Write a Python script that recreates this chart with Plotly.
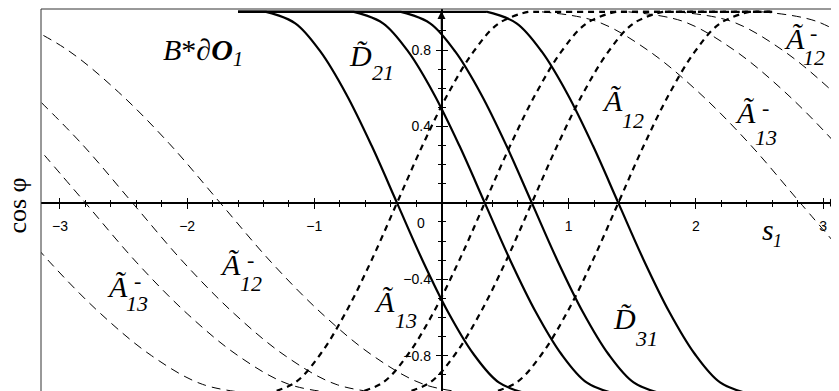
import plotly.graph_objects as go

SERIF = "Liberation Serif"
SANS = "Liberation Sans"

# ---- data ----
# solid branches: flat at cos=1 on the left, then falling through zero
solid_y = [1.00, 1.00, 1.00, 0.94, 0.79, 0.57, 0.30, 0.00, -0.30, -0.57, -0.79, -0.94, -1.00]
solid_s1 = [-1.60, -1.40, -1.38, -1.15, -0.95, -0.75, -0.55, -0.35, -0.15, 0.05, 0.25, 0.45, 0.68]
solid_s2 = [-1.60, -0.71, -0.69, -0.46, -0.26, -0.06, 0.14, 0.34, 0.54, 0.74, 0.94, 1.14, 1.37]
solid_s3 = [-1.60, -0.34, -0.32, -0.09, 0.11, 0.31, 0.51, 0.71, 0.91, 1.11, 1.31, 1.51, 1.74]
solid_s4 = [-1.60, 0.34, 0.36, 0.59, 0.79, 0.99, 1.19, 1.39, 1.59, 1.79, 1.99, 2.19, 2.42]

# heavy dashed branches: rising through zero, then flat at cos=1
rise_y = [-1.00, -0.94, -0.79, -0.57, -0.30, 0.00, 0.30, 0.57, 0.79, 0.94, 1.00, 1.00, 1.00]
rise_s1 = [-1.38, -1.15, -0.95, -0.75, -0.55, -0.35, -0.15, 0.05, 0.25, 0.45, 0.68, 0.70, 2.60]
rise_s2 = [-0.69, -0.46, -0.26, -0.06, 0.14, 0.34, 0.54, 0.74, 0.94, 1.14, 1.37, 1.39, 2.60]
rise_s3 = [-0.32, -0.09, 0.11, 0.31, 0.51, 0.71, 0.91, 1.11, 1.31, 1.51, 1.74, 1.76, 2.60]
rise_s4 = [0.36, 0.59, 0.79, 0.99, 1.19, 1.39, 1.59, 1.79, 1.99, 2.19, 2.42, 2.44, 2.60]

# thin dashed branches, left group (A-_13 / A-_12)
thin_l1_s = [-3.34, -2.94, -2.54, -2.14, -1.74, -1.34, -0.94, -0.54, -0.14, 0.29]
thin_l1_y = [0.95, 0.80, 0.58, 0.31, 0.00, -0.31, -0.58, -0.80, -0.95, -1.00]
thin_l2_s = [-3.23, -2.83, -2.43, -2.03, -1.63, -1.23, -0.83, -0.40]
thin_l2_y = [0.58, 0.31, 0.00, -0.31, -0.58, -0.80, -0.95, -1.00]
thin_l3_s = [-3.20, -2.80, -2.40, -2.00, -1.60, -1.20, -0.77]
thin_l3_y = [0.31, 0.00, -0.31, -0.58, -0.80, -0.95, -1.00]
thin_l4_s = [-3.48, -3.08, -2.68, -2.28, -1.88, -1.45]
thin_l4_y = [0.00, -0.31, -0.58, -0.80, -0.95, -1.00]

# thin dashed branches, right group
thin_r1_s = [0.79, 1.22, 1.62, 2.02, 2.42, 2.82, 3.22]
thin_r1_y = [1.00, 0.95, 0.80, 0.58, 0.31, 0.00, -0.31]
thin_r2_s = [1.47, 1.90, 2.30, 2.70, 3.10, 3.50]
thin_r2_y = [1.00, 0.95, 0.80, 0.58, 0.31, 0.00]
thin_r3_s = [1.85, 2.28, 2.68, 3.08, 3.48]
thin_r3_y = [1.00, 0.95, 0.80, 0.58, 0.31]
thin_r4_s = [2.52, 2.95, 3.35]
thin_r4_y = [1.00, 0.95, 0.80]

x_ticks = [-3, -2, -1, 1, 2, 3]
y_ticks = [-0.8, -0.4, 0.4, 0.8]

X_RANGE = [-3.149, 3.125]
Y_RANGE = [-0.985, 1.015]

# the page body has an 8px margin, so the figure is 8px smaller and the
# plot area margins are reduced accordingly
PAGE_PAD = 8

fig = go.Figure()


def add_curve(s, y, kind):
    if kind == "solid":
        line = dict(color="black", width=2.2, shape="spline")
    elif kind == "heavy":
        line = dict(color="black", width=2.2, dash="6px,5px", shape="spline")
    else:
        line = dict(color="black", width=1, dash="9px,6px", shape="spline")
    fig.add_trace(go.Scatter(x=s, y=y, mode="lines", line=line,
                             hoverinfo="skip", showlegend=False))


for s, y in [(thin_l1_s, thin_l1_y), (thin_l2_s, thin_l2_y), (thin_l3_s, thin_l3_y),
             (thin_l4_s, thin_l4_y), (thin_r1_s, thin_r1_y), (thin_r2_s, thin_r2_y),
             (thin_r3_s, thin_r3_y), (thin_r4_s, thin_r4_y)]:
    add_curve(s, y, "thin")

for s in [rise_s1, rise_s2, rise_s3, rise_s4]:
    add_curve(s, rise_y, "heavy")

for s in [solid_s1, solid_s2, solid_s3, solid_s4]:
    add_curve(s, solid_y, "solid")

# invisible trace so the overlay axes (ticks on the other side) get drawn
fig.add_trace(go.Scatter(x=[0], y=[0], xaxis="x2", yaxis="y2", mode="markers",
                         marker=dict(opacity=0), hoverinfo="skip", showlegend=False))

x_pos = (0 - Y_RANGE[0]) / (Y_RANGE[1] - Y_RANGE[0])
y_pos = (0 - X_RANGE[0]) / (X_RANGE[1] - X_RANGE[0])

tick_font = dict(family=SANS, size=14, color="black")

common_x = dict(range=X_RANGE, anchor="free", position=x_pos, showgrid=False,
                zeroline=False, tickvals=x_ticks, tickwidth=1.2, tickcolor="black",
                ticklen=5, fixedrange=True)
common_y = dict(range=Y_RANGE, anchor="free", position=y_pos, showgrid=False,
                zeroline=False, tickvals=y_ticks, tickwidth=1.2, tickcolor="black",
                ticklen=5, fixedrange=True)

fig.update_layout(
    width=839 - PAGE_PAD, height=391 - PAGE_PAD,
    margin=dict(l=41 - PAGE_PAD, r=0, t=9 - PAGE_PAD, b=0, autoexpand=False),
    plot_bgcolor="white", paper_bgcolor="white",
    showlegend=False,
    xaxis=dict(common_x, showline=True, linewidth=1.6, linecolor="black",
               ticks="outside", tickfont=tick_font, ticklabelstandoff=6,
               minor=dict(ticks="outside", ticklen=3, dtick=0.2, tick0=0,
                          tickwidth=1, tickcolor="black", showgrid=False)),
    yaxis=dict(common_y, showline=True, linewidth=1.6, linecolor="black",
               ticks="outside", tickfont=tick_font, ticklabelstandoff=2,
               minor=dict(ticks="outside", ticklen=3, dtick=0.1, tick0=0,
                          tickwidth=1, tickcolor="black", showgrid=False)),
    xaxis2=dict(common_x, overlaying="x", showline=False, ticks="inside",
                showticklabels=False,
                minor=dict(ticks="inside", ticklen=3, dtick=0.2, tick0=0,
                           tickwidth=1, tickcolor="black", showgrid=False)),
    yaxis2=dict(common_y, overlaying="y", showline=False, ticks="inside",
                showticklabels=False,
                minor=dict(ticks="inside", ticklen=3, dtick=0.1, tick0=0,
                           tickwidth=1, tickcolor="black", showgrid=False)),
)

# frame (left and top edges)
fig.add_shape(type="line", xref="paper", yref="paper", x0=0, x1=0, y0=0, y1=1,
              line=dict(color="#333333", width=1))
fig.add_shape(type="line", xref="paper", yref="paper", x0=0, x1=1, y0=1, y1=1,
              line=dict(color="#333333", width=1))

# axis arrows
fig.add_annotation(x=3.117, y=0, ax=3.0, ay=0, axref="x", ayref="y", text="",
                   showarrow=True, arrowhead=2, arrowsize=1, arrowwidth=1.6,
                   arrowcolor="black")
fig.add_annotation(x=0, y=1.005, ax=0, ay=0.9, axref="x", ayref="y", text="",
                   showarrow=True, arrowhead=2, arrowsize=1, arrowwidth=1.6,
                   arrowcolor="black")

# lone "0" tick label sits left of the vertical axis
fig.add_annotation(x=-0.161, y=-0.105, text="0", showarrow=False, font=tick_font)

# y title
fig.add_annotation(xref="paper", yref="paper", x=-0.030, y=0.4856, text="cos φ",
                   textangle=-90, showarrow=False, xanchor="center", yanchor="middle",
                   borderpad=0,
                   font=dict(family=SERIF, size=26, color="black"))


def add_label(s, y, base, sub=None, sup=None, sub_off=(21, 19), sup_off=(20, -6),
              size=30, sub_size=22):
    fig.add_annotation(x=s, y=y, text=f"<i>{base}</i>", showarrow=False,
                       xanchor="center", yanchor="middle",
                       font=dict(family=SERIF, size=size, color="black"))
    if sub:
        fig.add_annotation(x=s, y=y, xshift=sub_off[0], yshift=-sub_off[1],
                           text=f"<i>{sub}</i>", showarrow=False,
                           xanchor="center", yanchor="middle",
                           font=dict(family=SERIF, size=sub_size, color="black"))
    if sup:
        fig.add_annotation(x=s, y=y, xshift=sup_off[0], yshift=-sup_off[1],
                           text=sup, showarrow=False,
                           xanchor="center", yanchor="middle",
                           font=dict(family=SERIF, size=sub_size, color="black"))


TILDE = "\u0303"
add_label(-0.641, 0.769, "D" + TILDE, "21", sub_off=(22.5, 16.5))
add_label(1.348, 0.534, "Ã", "12", sub_off=(20.5, 20))
add_label(2.386, 0.471, "Ã", "13", "-", sub_off=(21, 24.5), sup_off=(20, -5))
add_label(2.779, 0.863, "Ã", "12", "-", sub_off=(19, 19.5), sup_off=(18.5, -5.5))
add_label(-2.551, -0.440, "Ã", "13", "-", sub_off=(20, 16.5), sup_off=(20.5, -6))
add_label(-1.663, -0.325, "Ã", "12", "-", sub_off=(20.5, 19), sup_off=(20, -5))
add_label(-0.452, -0.519, "Ã", "13", sub_off=(22, 19))
add_label(1.435, -0.603, "D" + TILDE, "31", sub_off=(22.5, 20))
add_label(2.567, -0.137, "s", "1", sub_off=(9, 11.5), size=30, sub_size=18)

fig.add_annotation(x=-1.875, y=0.79, showarrow=False, xanchor="center", yanchor="middle",
                   text="<i>B</i>*∂<b><i>O</i></b><sub><i>1</i></sub>",
                   font=dict(family=SERIF, size=30, color="black"))

fig.write_html("out.html")
